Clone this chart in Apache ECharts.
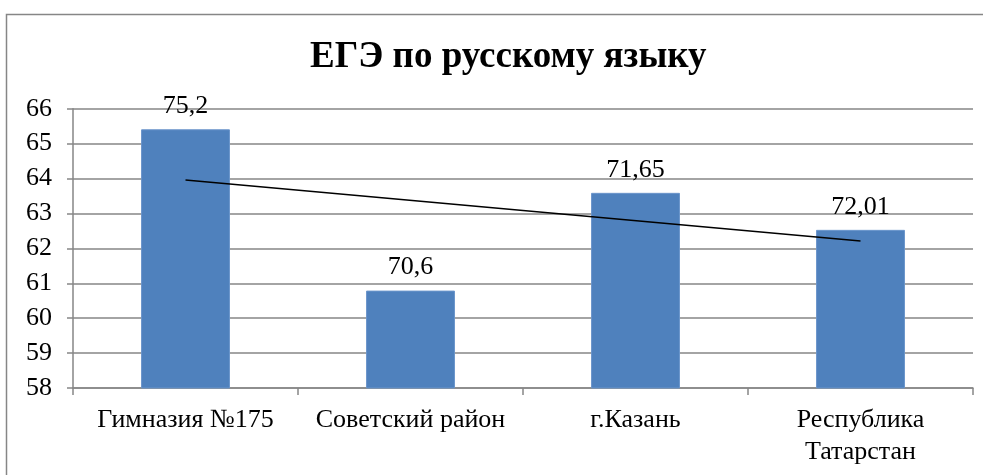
<!DOCTYPE html>
<html>
<head>
<meta charset="utf-8">
<script src="https://cdn.jsdelivr.net/npm/echarts@6/dist/echarts.min.js"></script>
<style>
  html, body { margin: 0; padding: 0; background: #fff; }
  #chart { width: 983px; height: 475px; }
</style>
</head>
<body>
<div id="chart"></div>
<script>
// категории и значения
var categories = ['Гимназия №175', 'Советский район', 'г.Казань', 'Республика\nТатарстан'];
var barValues = [65.41, 60.79, 63.59, 62.53];
var barLabels = ['75,2', '70,6', '71,65', '72,01'];
// линия тренда (концы)
var trendValues = [63.96, null, null, 62.21];

var serif = '"Liberation Serif", "DejaVu Serif", serif';

var echart = echarts.init(document.getElementById('chart'));
var option = {
  animation: false,
  title: {
    text: 'ЕГЭ по русскому языку',
    left: 305,
    top: 34,
    textStyle: { fontFamily: serif, fontSize: 37, fontWeight: 'bold', color: '#000' }
  },
  graphic: [{
    type: 'rect',
    left: 4, top: 12,
    shape: { width: 995, height: 480 },
    style: { fill: 'none', stroke: '#868686', lineWidth: 1.5 },
    silent: true
  }],
  grid: { left: 73, right: 10, top: 108.7, bottom: 87 },
  xAxis: {
    type: 'category',
    data: categories,
    axisLine: { lineStyle: { color: '#868686', width: 1.5 } },
    axisTick: { show: true, length: 7, interval: 0, alignWithLabel: false, lineStyle: { color: '#868686', width: 1.5 } },
    axisLabel: { interval: 0, fontFamily: serif, fontSize: 26, color: '#000', margin: 16, lineHeight: 32 }
  },
  yAxis: {
    type: 'value',
    min: 58, max: 66, interval: 1,
    axisLine: { show: true, lineStyle: { color: '#868686', width: 1.5 } },
    axisTick: { show: true, length: 6, lineStyle: { color: '#868686', width: 1.5 } },
    splitLine: { lineStyle: { color: '#868686', width: 1.5 } },
    axisLabel: { fontFamily: serif, fontSize: 26, color: '#000', margin: 21 }
  },
  series: [{
    type: 'bar',
    data: barValues,
    barWidth: '39.5%',
    itemStyle: { color: '#4F81BD', borderColor: '#6A95CB', borderWidth: 1 },
    label: {
      show: true,
      position: 'top',
      distance: 10,
      fontFamily: serif, fontSize: 26, color: '#000',
      formatter: function (p) { return barLabels[p.dataIndex]; }
    }
  }, {
    type: 'line',
    data: trendValues,
    connectNulls: true,
    symbol: 'none',
    lineStyle: { color: '#000', width: 1.5 },
    z: 5
  }]
};
echart.setOption(option);
</script>
</body>
</html>
